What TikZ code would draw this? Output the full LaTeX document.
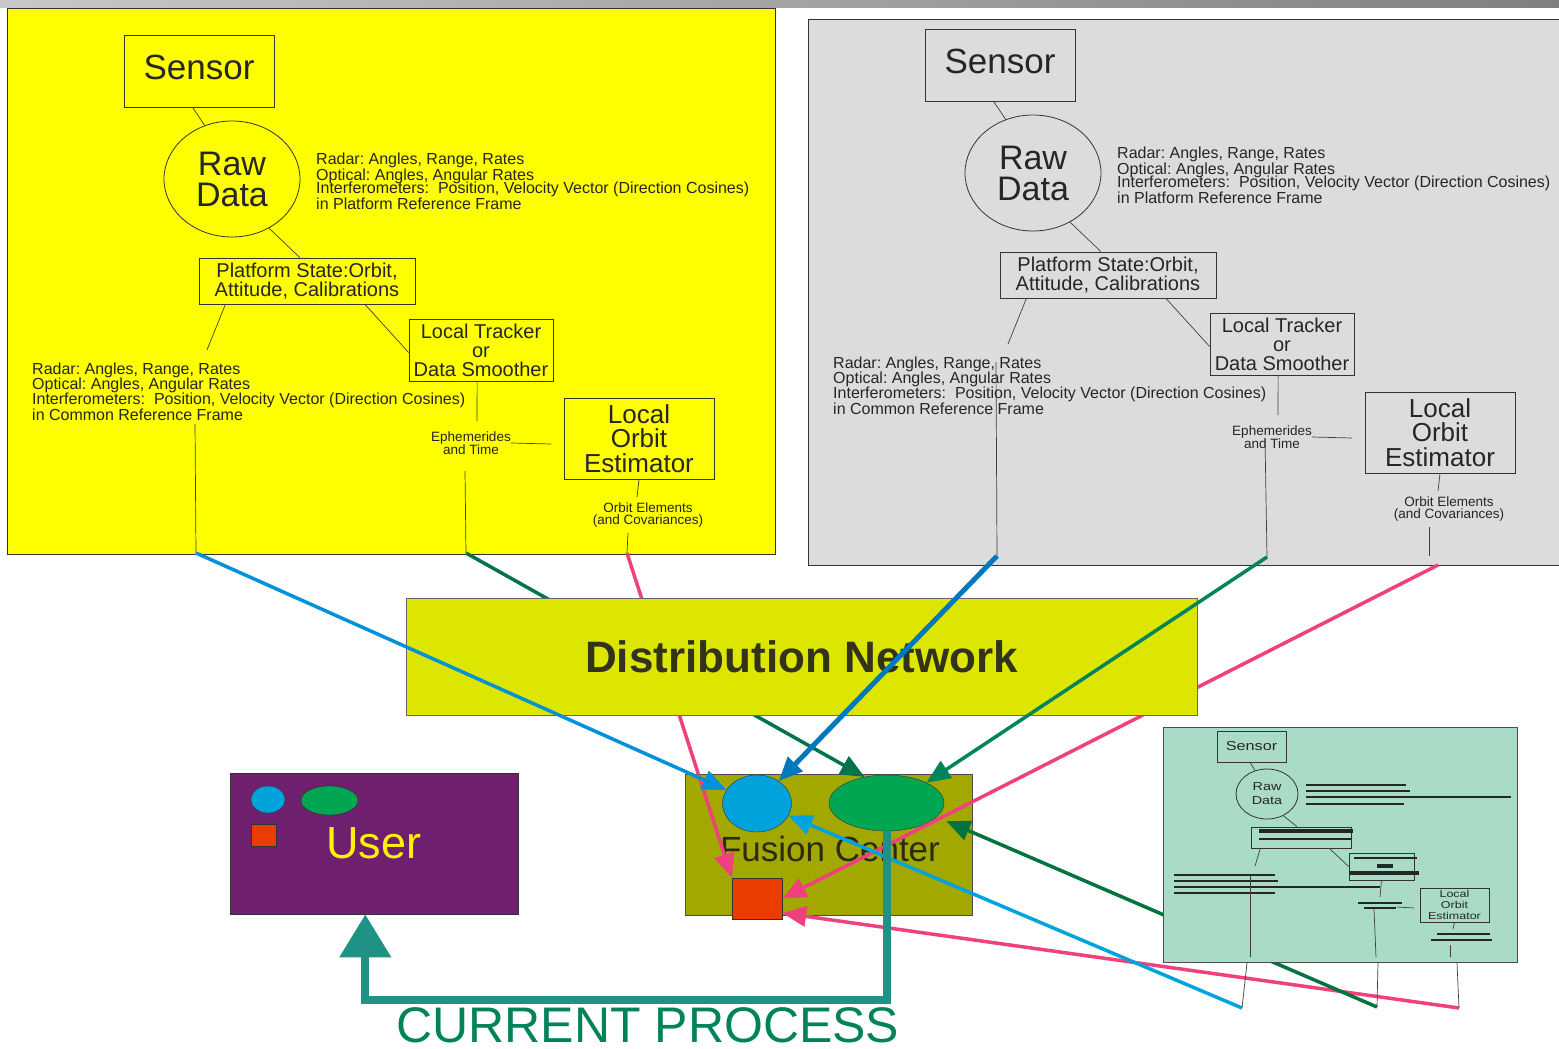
\documentclass[tikz,border=0pt]{standalone}
\usepackage{fontspec}
\setmainfont{Liberation Sans}
\newfontfamily\widefont[FakeStretch=1.25]{Liberation Sans}
\usetikzlibrary{arrows.meta,shapes.geometric,calc}
\frenchspacing
\newcommand{\txtsize}[2]{\fontsize{#1}{#2}\selectfont}

\definecolor{barleft}{HTML}{C8C8C8}
\definecolor{barright}{HTML}{7F7F7F}
\definecolor{panelyellow}{HTML}{FFFF00}
\definecolor{panelgray}{HTML}{DCDCDC}
\definecolor{minigreen}{HTML}{A9DBC6}
\definecolor{netyellow}{HTML}{DCE600}
\definecolor{nettext}{HTML}{33331A}
\definecolor{fusionolive}{HTML}{A3A800}
\definecolor{fusiontext}{HTML}{2B2B10}
\definecolor{blobblue}{HTML}{00A2DC}
\definecolor{lensgreen}{HTML}{00A651}
\definecolor{chipred}{HTML}{EB3D00}
\definecolor{userpurple}{HTML}{6E1F6E}
\definecolor{blueA}{HTML}{0091D9}
\definecolor{blueB}{HTML}{0078BF}
\definecolor{blueC}{HTML}{00A3DE}
\definecolor{greenA}{HTML}{00734A}
\definecolor{greenB}{HTML}{00845A}
\definecolor{greenC}{HTML}{00733E}
\definecolor{pinkline}{HTML}{EF417B}
\definecolor{tealline}{HTML}{1F9185}
\definecolor{processgreen}{HTML}{00825A}

\tikzset{
  frame/.style={draw=black!80, line width=0.8pt},
  chainbox/.style={draw=black!80, line width=0.8pt, inner sep=0pt, align=center, text=black!85},
  infotext/.style={inner sep=0pt, align=left, text=black!85, font=\txtsize{16}{15}},
  smalltext/.style={inner sep=0pt, align=center, text=black!85, font=\txtsize{13.5}{12.5}},
  link/.style={draw=black!75, line width=0.7pt},
  feed/.style={line width=3.5pt, -{Triangle[length=24pt,width=20pt]}},
  greek/.style={draw=black!85, line width=2.2pt},
  process line/.style={draw=tealline, line width=8pt, -{Triangle[length=43pt,width=50pt]}},
}

% one sensor platform: sensor -> raw data -> platform state -> tracker -> orbit estimator
\newcommand{\SensorChain}[2]{%
\begin{scope}[shift={#1}, name prefix=#2-]
  \node[chainbox, minimum width=150pt, minimum height=72pt, text depth=8pt, font=\txtsize{35}{35}] (sensor) at (199,71) {Sensor};
  \node[chainbox, ellipse, minimum width=136pt, minimum height=116pt, font=\txtsize{34}{31}] (raw) at (232,179) {Raw\\Data};
  \node[infotext, anchor=north west] (rawinfo) at (316,153) {Radar: Angles, Range, Rates\\[1pt]Optical: Angles, Angular Rates\\[-2pt]Interferometers:\ \ Position, Velocity Vector (Direction Cosines)\\[0.5pt]in Platform Reference Frame};
  \node[chainbox, minimum width=216pt, minimum height=46pt, font=\txtsize{20}{19}] (plat) at (307,281) {Platform State:Orbit,\\Attitude, Calibrations};
  \node[chainbox, minimum width=144pt, minimum height=62pt, font=\txtsize{20}{19}] (tracker) at (481,350) {Local Tracker\\or\\Data Smoother};
  \node[infotext, anchor=north west] (commoninfo) at (32,363) {Radar: Angles, Range, Rates\\Optical: Angles, Angular Rates\\Interferometers:\ \ Position, Velocity Vector (Direction Cosines)\\[0.5pt]in Common Reference Frame};
  \node[smalltext] (ephem) at (471,443) {Ephemerides\\and Time};
  \node[chainbox, minimum width=150pt, minimum height=81pt, font=\txtsize{26}{24.5}] (orbit) at (639,438.5) {Local\\Orbit\\Estimator};
  \node[smalltext] (elements) at (648,515) {Orbit Elements\\(and Covariances)};

  \coordinate (commontop) at (207,350);
  \coordinate (ephemtop) at (477,421);
  \coordinate (orbitleft) at (551,444);
  \coordinate (elementstop) at (637,497);

  \draw[link] (sensor.260) -- (raw.117);
  \draw[link] (raw.-53) -- (plat.107);
  \draw[link] (plat.196) -- (commontop);
  \draw[link] (plat.-22) -- (tracker.182);
  \draw[link] (tracker.263) -- (ephemtop);
  \draw[link] (ephem.east) -- (orbitleft);
  \draw[link] (orbit.south) -- (elementstop);
\end{scope}}

\begin{document}
\begin{tikzpicture}[x=1pt,y=-1pt]
\useasboundingbox (0,0) rectangle (1559,1049);
\fill[white] (0,0) rectangle (1559,1049);
\shade[left color=barleft, right color=barright] (0,0) rectangle (1559,8);

% the two full platforms
\draw[frame, fill=panelyellow] (7,8) rectangle (775,554);
\draw[frame, fill=panelgray] (808,19) rectangle (1575,565);
\SensorChain{(0,0)}{y}
\SensorChain{(801,-6)}{g}

\coordinate (yel-radar) at (196,553);
\coordinate (yel-ephem) at (466,553);
\coordinate (yel-orbit) at (627,553);
\coordinate (yel-radar-up) at (195,424);
\coordinate (yel-ephem-up) at (465,471);
\coordinate (yel-orbit-up) at (628,533);
\coordinate (gry-radar) at (997,556);
\coordinate (gry-ephem) at (1267,557);
\coordinate (gry-orbit) at (1438,565);
\coordinate (gry-radar-up) at (996,362);
\coordinate (gry-ephem-up) at (1265,438);
\coordinate (gry-orbit-up) at (1429,527);
\coordinate (gry-orbit-low) at (1429,556);
\draw[link] (yel-radar-up) -- (yel-radar);
\draw[link] (yel-ephem-up) -- (yel-ephem);
\draw[link] (yel-orbit-up) -- (yel-orbit);
\draw[link] (gry-radar-up) -- (gry-radar);
\draw[link] (gry-ephem-up) -- (gry-ephem);
\draw[link] (gry-orbit-up) -- (gry-orbit-low);

% fusion center
\node[draw=black!70, line width=0.8pt, fill=fusionolive, minimum width=287pt, minimum height=141pt] (fusion) at (828.5,845) {};
\node[font=\txtsize{35}{35}, text=fusiontext, inner sep=0pt] (fusionlabel) at (830,849) {Fusion Center};
\node[draw=black!80, ellipse, fill=blobblue, inner sep=0pt, minimum width=69pt, minimum height=57pt] (blob) at (757,803.5) {};
\node[draw=black!80, ellipse, fill=lensgreen, inner sep=0pt, minimum width=115pt, minimum height=56pt] (lens) at (886.5,803) {};
\node[draw=black!80, fill=chipred, inner sep=0pt, minimum width=50pt, minimum height=41pt] (chip) at (757,898.5) {};

% links under the network box and the small platform
\coordinate (mini-radar) at (1242,1008);
\coordinate (mini-ephem) at (1377,1007);
\coordinate (mini-orbit) at (1459,1008);
\draw[feed, pinkline] (yel-orbit) -- (chip.north west);
\draw[feed, greenA] (yel-ephem) -- (lens.130);
\draw[feed, pinkline] (gry-orbit) -- (chip.east);
\draw[feed, pinkline] (mini-orbit) -- (chip.-30);
\draw[feed, greenC] (mini-ephem) -- ($(lens.east)+(2,18)$);
\draw[feed, blueC] (mini-radar) -- (blob.-21);

\node[draw=black!60, line width=1pt, fill=netyellow, minimum width=791pt, minimum height=117pt, text=nettext, font=\bfseries\txtsize{44}{44}] (net) at (801.5,656.5) {Distribution Network};

\draw[feed, blueA] (yel-radar) -- (blob);
\draw[feed, blueB, line width=5pt] (gry-radar) -- (blob);
\draw[feed, greenB] (gry-ephem) -- (lens.27);

% small third platform, text greeked
\draw[frame, draw=black!70, fill=minigreen] (1163,727) rectangle (1517,962);
\node[chainbox, minimum width=69pt, minimum height=31pt, font=\widefont\txtsize{13}{13}] (msensor) at (1251.5,746.5) {Sensor};
\node[chainbox, ellipse, minimum width=62pt, minimum height=50pt, font=\widefont\txtsize{11.5}{14}] (mraw) at (1267,794) {Raw\\Data};
\node[chainbox, minimum width=100pt, minimum height=21pt] (mplat) at (1301,837.5) {};
\node[chainbox, minimum width=65pt, minimum height=27pt] (mtrack) at (1381.5,866.5) {};
\node[chainbox, minimum width=69pt, minimum height=34pt, font=\widefont\txtsize{10}{11}] (morbit) at (1454.5,905) {Local\\Orbit\\Estimator};
\foreach \xa/\xb/\y in {1306/1406/785, 1306/1410/791, 1306/1511/797, 1306/1404/804, 1259/1351/839, 1354/1417/858, 1174/1275/875, 1174/1278/881, 1174/1380/887, 1174/1275/893, 1358/1402/903, 1364/1396/908, 1437/1490/934, 1431/1492/940}
  \draw[greek] (\xa,\y) -- (\xb,\y);
\foreach \xa/\xb/\y in {1259/1353/831, 1377/1393/866, 1349/1419/873}
  \draw[greek, line width=3.4pt] (\xa,\y) -- (\xb,\y);

\coordinate (mcommontop) at (1255,866);
\coordinate (mephemtop) at (1380,897);
\coordinate (mephemend) at (1397,907);
\coordinate (morbitleft) at (1414,908);
\coordinate (melementstop) at (1453,929);
\draw[link] (msensor.265) -- (mraw.117);
\draw[link] (mraw.-53) -- (mplat.111);
\draw[link] (mplat.195) -- (mcommontop);
\draw[link] (mplat.-21) -- (mtrack.west);
\draw[link] (mtrack.south) -- (mephemtop);
\draw[link] (mephemend) -- (morbitleft);
\draw[link] (morbit.south) -- (melementstop);

\coordinate (mini-radar-up) at (1250,875);
\coordinate (mini-radar-in) at (1250,957);
\coordinate (mini-radar-out) at (1247,963);
\coordinate (mini-ephem-up) at (1374,909);
\coordinate (mini-ephem-in) at (1376,957);
\coordinate (mini-ephem-out) at (1378,962);
\coordinate (mini-orbit-up) at (1450,945);
\coordinate (mini-orbit-in) at (1450,957);
\coordinate (mini-orbit-out) at (1457,963);
\draw[link] (mini-radar-up) -- (mini-radar-in);
\draw[link] (mini-ephem-up) -- (mini-ephem-in);
\draw[link] (mini-orbit-up) -- (mini-orbit-in);
\draw[link] (mini-radar-out) -- (mini-radar);
\draw[link] (mini-ephem-out) -- (mini-ephem);
\draw[link] (mini-orbit-out) -- (mini-orbit);

% user
\node[draw=black!80, line width=0.8pt, fill=userpurple, minimum width=288pt, minimum height=141pt, text=yellow, font=\txtsize{45}{45}] (user) at (374,843.5) {User};
\node[draw=black!80, ellipse, fill=blobblue, inner sep=0pt, minimum width=34pt, minimum height=27pt] (ublob) at (268,799.5) {};
\node[draw=black!80, ellipse, fill=lensgreen, inner sep=0pt, minimum width=57pt, minimum height=29pt] (ulens) at (329.5,800.5) {};
\node[draw=black!80, fill=chipred, inner sep=0pt, minimum width=25pt, minimum height=22pt] (uchip) at (263.5,835) {};

% current process back to the user
\coordinate (bend) at (626,1000);
\draw[process line] (lens.south) |- (bend) -| (user.-97);
\node[font=\txtsize{50}{50}, text=processgreen, inner sep=0pt] (caption) at (648,1025) {CURRENT PROCESS};

\end{tikzpicture}
\end{document}
